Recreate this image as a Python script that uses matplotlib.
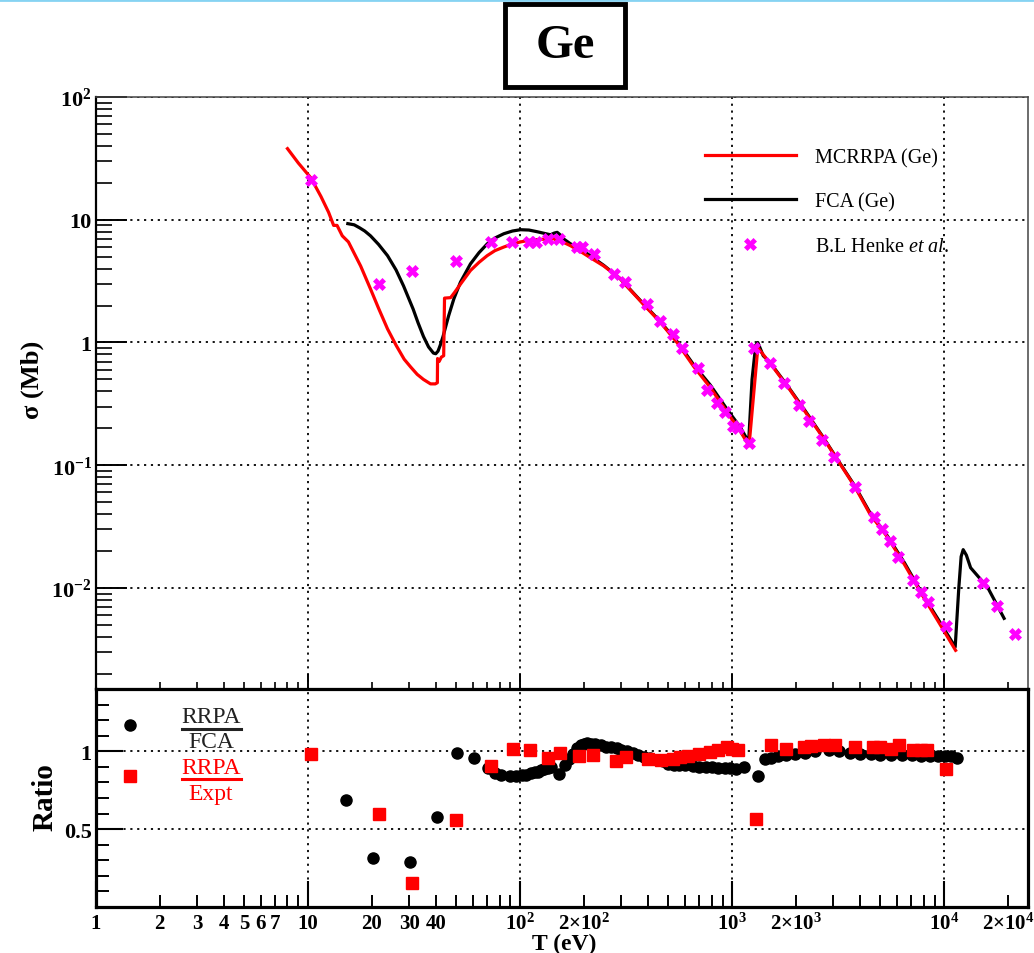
import matplotlib
matplotlib.use('Agg')
import matplotlib.pyplot as plt
from matplotlib.ticker import LogLocator, FixedLocator, FuncFormatter, MultipleLocator, NullFormatter
from matplotlib.patches import Rectangle
from matplotlib.lines import Line2D

plt.rcParams['font.family'] = ['Liberation Serif', 'DejaVu Serif']
plt.rcParams['mathtext.fontset'] = 'custom'
plt.rcParams['mathtext.rm'] = 'Liberation Serif'
plt.rcParams['mathtext.it'] = 'Liberation Serif:italic'
plt.rcParams['mathtext.bf'] = 'Liberation Serif:bold'

# ---------------- data ----------------
title_text = "Ge"
legend_labels = ["MCRRPA (Ge)", "FCA (Ge)", r"B.L Henke $\mathit{et\ al.}$"]

mcrrpa_T = [8.0, 9.0, 10.3, 11.5, 12.5, 13.2, 13.7, 14.5, 15.5, 17.7, 19.7, 21.5, 23.7, 26, 28.4,
            30.5, 32.7, 35, 37.8, 39.8, 40.7, 40.8, 41.5, 42.5, 43.6, 44.0, 47, 49, 52.4, 58.3,
            64, 69.9, 76, 83.8, 92, 100.4, 110, 120, 130, 141, 143, 145, 149.5, 160, 172, 190,
            207, 248, 297, 318, 381, 458, 549, 657, 788, 946, 1089, 1200, 1320, 1505, 1820,
            2200, 2660, 3150, 3800, 4460, 5390, 6490, 7880, 9380, 11300]
mcrrpa_sigma = [38, 29, 22, 15.5, 11.5, 9.0, 9.0, 7.4, 6.6, 4.2, 2.73, 1.9, 1.29, 0.95, 0.73,
                0.63, 0.55, 0.5, 0.46, 0.46, 0.47, 0.74, 0.70, 0.76, 0.78, 2.3, 2.32, 2.55, 3.0, 3.86,
                4.5, 5.1, 5.6, 6.0, 6.35, 6.6, 6.8, 6.9, 6.95, 6.98, 7.3, 6.95, 6.8, 6.55, 6.17, 5.6,
                5.1, 4.2, 3.3, 2.88, 2.05, 1.46, 1.0, 0.64, 0.43, 0.27, 0.19, 0.144, 0.906, 0.68, 0.44,
                0.275, 0.171, 0.109, 0.066, 0.040, 0.026, 0.0155, 0.0087, 0.0053, 0.0031]

fca_T = [15.4, 16.5, 17.5, 18.5, 19.7, 21.5, 23.7, 26, 28.2, 31.3, 33, 35.0, 37, 39.0, 40, 41, 42, 43.3, 46,
         48.7, 52.3, 58.3, 64, 70, 76, 83.8, 92, 100.4, 110, 120, 130, 139, 145, 149.5, 155, 160,
         172, 190, 207, 248, 297, 318, 381, 458, 549, 657, 788, 946, 1089, 1195, 1240, 1290, 1320,
         1400, 1505, 1820, 2200, 2660, 3150, 3800, 4460, 5390, 6490, 7880, 9380, 11250, 11700,
         12000, 12270, 12700, 13300, 16000, 19130]
fca_sigma = [9.3, 9.1, 8.6, 8.1, 7.4, 6.3, 5.1, 3.9, 2.89, 1.87, 1.45, 1.12, 0.92, 0.82, 0.81, 0.85, 0.95, 1.12, 1.65,
             2.27, 3.1, 4.37, 5.4, 6.37, 7.1, 7.7, 8.1, 8.3, 8.25, 8.0, 7.75, 7.55, 7.8, 7.9, 7.5, 7.0,
             6.4, 5.8, 5.3, 4.25, 3.3, 2.9, 2.07, 1.48, 1.02, 0.66, 0.45, 0.285, 0.205, 0.155, 0.5, 0.95, 1.0,
             0.78, 0.69, 0.445, 0.28, 0.173, 0.11, 0.067, 0.041, 0.0265, 0.016, 0.0089, 0.0055, 0.0033, 0.010,
             0.018, 0.0205, 0.0185, 0.0146, 0.0101, 0.00565]

henke_T = [10.3, 21.6, 31, 49.6, 72.5, 91.8, 110, 118.5, 136, 152, 185.5, 196, 222, 276, 311, 395,
           458, 528, 580, 686, 760, 847, 925, 1010, 1060, 1195, 1260, 1505, 1750, 2060, 2300, 2660,
           3010, 3780, 4650, 5070, 5520, 6050, 7110, 7730, 8370, 10200, 15240, 17660, 21530]
henke_sigma = [21, 3.0, 3.83, 4.6, 6.6, 6.6, 6.6, 6.6, 7.0, 7.0, 5.95, 5.95, 5.3, 3.6, 3.1, 2.05,
               1.5, 1.17, 0.91, 0.62, 0.41, 0.32, 0.27, 0.21, 0.2, 0.153, 0.91, 0.68, 0.47, 0.31, 0.23, 0.16,
               0.117, 0.066, 0.038, 0.030, 0.024, 0.018, 0.0115, 0.0093, 0.0077, 0.0049, 0.011, 0.0071, 0.0042]

ratio_fca_T = [15.1, 20.2, 30.2, 40.4, 50.4, 60.6, 70.5, 76, 81, 90, 96, 102, 107, 112, 117, 121, 126,
               130, 135, 140, 152, 163, 170, 177, 185, 193, 200, 207, 215, 225, 240, 255, 267, 285, 300,
               320, 340, 360, 385, 410, 440, 470, 498, 530, 560, 600, 650, 695, 750, 800, 860, 924, 980,
               1037, 1137, 1318, 1420, 1530, 1650, 1800, 1985, 2200, 2450, 2860, 3200, 3600, 4000, 4500,
               5000, 5600, 6300, 7050, 7800, 8600, 9300, 10100, 10800, 11500]
ratio_fca = [0.69, 0.314, 0.29, 0.58, 0.99, 0.955, 0.89, 0.86, 0.85, 0.84, 0.84, 0.846, 0.85, 0.86, 0.865,
             0.87, 0.878, 0.887, 0.894, 0.90, 0.855, 0.91, 0.95, 0.984, 1.02, 1.04, 1.05, 1.055, 1.05, 1.045,
             1.04, 1.03, 1.027, 1.02, 1.01, 1.0, 0.99, 0.975, 0.965, 0.955, 0.945, 0.935, 0.92, 0.915, 0.912,
             0.91, 0.905, 0.90, 0.90, 0.897, 0.895, 0.895, 0.89, 0.887, 0.897, 0.84, 0.95, 0.96, 0.97, 0.978,
             0.984, 0.99, 1.0, 1.006, 1.0, 0.99, 0.984, 0.98, 0.978, 0.977, 0.976, 0.975, 0.973, 0.972,
             0.971, 0.97, 0.968, 0.96]

ratio_expt_T = [10.3, 21.5, 30.9, 49.6, 72.5, 92.2, 111, 135, 154, 190, 221, 284, 316, 399, 462, 526,
                565, 619, 695, 785, 860, 943, 993, 1070, 1290, 1530, 1790, 2170, 2360, 2710, 3050, 3800,
                4600, 4960, 5600, 6100, 7100, 7800, 8300, 10200]
ratio_expt = [0.983, 0.596, 0.154, 0.556, 0.906, 1.013, 1.006, 0.958, 0.99, 0.97, 0.974, 0.94, 0.963,
              0.952, 0.942, 0.952, 0.963, 0.973, 0.984, 0.995, 1.006, 1.027, 1.016, 1.006, 0.565, 1.042,
              1.016, 1.027, 1.032, 1.042, 1.042, 1.027, 1.027, 1.027, 1.016, 1.042, 1.006, 1.006, 1.006,
              0.887]

x_major_labels = {1: "1", 10: "10", 100: r"$\mathbf{10^{2}}$", 1000: r"$\mathbf{10^{3}}$",
                  10000: r"$\mathbf{10^{4}}$"}
x_minor_labels = {2: "2", 3: "3", 4: "4", 5: "5", 6: "6", 7: "7", 20: "20", 30: "30", 40: "40",
                  200: r"$\mathbf{2{\times}10^{2}}$", 2000: r"$\mathbf{2{\times}10^{3}}$",
                  20000: r"$\mathbf{2{\times}10^{4}}$"}
y_top_labels = {100: r"$\mathbf{10^{2}}$", 10: "10", 1: "1", 0.1: r"$\mathbf{10^{-1}}$",
                0.01: r"$\mathbf{10^{-2}}$"}
y_ratio_labels = {0.5: "0.5", 1.0: "1"}

# ---------------- figure ----------------
fig = plt.figure(figsize=(10.34, 9.54), dpi=100)
ax1 = fig.add_axes([0.0928, 0.2767, 0.9014, 0.6205])
ax2 = fig.add_axes([0.0928, 0.0482, 0.9014, 0.2285])

RED = '#ff0000'
MAG = '#ff00ff'
grid_style = dict(color='black', linestyle=(0, (1.2, 2.6)), linewidth=1.3)
TICK_FS = 16
XTICK_FS = 15


def lookup(d):
    def f(v, pos):
        for k, s in d.items():
            if abs(v - k) <= 1e-6 * max(abs(k), 1e-9):
                return s
        return ""
    return f

# --- top panel ---
l_fca, = ax1.plot(fca_T, fca_sigma, color='black', lw=2.3, zorder=3)
l_rpa, = ax1.plot(mcrrpa_T, mcrrpa_sigma, color=RED, lw=2.3, zorder=4)
l_hen, = ax1.plot(henke_T, henke_sigma, linestyle='none', marker='X', ms=8.5, mfc=MAG, mec=MAG,
                  mew=0.5, zorder=5)
ax1.set_xscale('log')
ax1.set_yscale('log')
ax1.set_xlim(1, 2.48e4)
ax1.set_ylim(1.5e-3, 100)
ax1.yaxis.set_major_locator(LogLocator(base=10, numticks=20))
ax1.yaxis.set_minor_locator(LogLocator(base=10, subs=range(2, 10), numticks=20))
ax1.yaxis.set_major_formatter(FuncFormatter(lookup(y_top_labels)))
ax1.yaxis.set_minor_formatter(NullFormatter())
ax1.xaxis.set_major_locator(LogLocator(base=10, numticks=20))
ax1.xaxis.set_minor_locator(LogLocator(base=10, subs=range(2, 10), numticks=20))
ax1.tick_params(axis='y', which='major', direction='in', length=22, width=1.4, left=True, right=False,
                labelsize=TICK_FS, pad=3)
ax1.tick_params(axis='y', which='minor', direction='in', length=11.5, width=1.2, left=True, right=False)
ax1.tick_params(axis='x', which='major', direction='in', length=11, width=1.4, bottom=True, top=False,
                labelbottom=False)
ax1.tick_params(axis='x', which='minor', direction='in', length=5, width=1.2, bottom=True, top=False)
for lab in ax1.get_yticklabels():
    lab.set_fontweight('bold')
ax1.grid(True, which='major', **grid_style)
ax1.spines['left'].set_linewidth(1.6)
ax1.spines['bottom'].set_linewidth(2.2)
for s in ('top', 'right'):
    ax1.spines[s].set_linewidth(1.1)
    ax1.spines[s].set_color('#444444')

leg = ax1.legend([l_rpa, l_fca, l_hen], legend_labels, loc='upper left',
                 bbox_to_anchor=(0.645, 0.928), frameon=False, fontsize=14.5,
                 handlelength=4.5, handletextpad=0.95, labelspacing=1.25, borderaxespad=0)

# --- bottom panel ---
ax2.plot(ratio_fca_T, ratio_fca, linestyle='none', marker='o', ms=8, color='black', zorder=3)
ax2.plot(ratio_expt_T, ratio_expt, linestyle='none', marker='s', ms=8, color=RED, zorder=4)
ax2.set_xscale('log')
ax2.set_xlim(1, 2.48e4)
ax2.set_ylim(0, 1.4)
ax2.xaxis.set_major_locator(LogLocator(base=10, numticks=20))
ax2.xaxis.set_minor_locator(LogLocator(base=10, subs=range(2, 10), numticks=20))
ax2.xaxis.set_major_formatter(FuncFormatter(lookup(x_major_labels)))
ax2.xaxis.set_minor_formatter(FuncFormatter(lookup(x_minor_labels)))
ax2.yaxis.set_major_locator(FixedLocator(list(y_ratio_labels.keys())))
ax2.yaxis.set_minor_locator(MultipleLocator(0.1))
ax2.yaxis.set_major_formatter(FuncFormatter(lookup(y_ratio_labels)))
ax2.tick_params(axis='x', which='major', direction='in', length=19, width=1.5, top=False,
                labelsize=XTICK_FS, pad=4)
ax2.tick_params(axis='x', which='minor', direction='in', length=9, width=1.4, top=False,
                labelsize=XTICK_FS, pad=4)
ax2.tick_params(axis='y', which='major', direction='in', length=19.5, width=1.5, right=False,
                labelsize=TICK_FS, pad=3)
ax2.tick_params(axis='y', which='minor', direction='in', length=9.5, width=1.4, right=False)
for lab in ax2.get_xticklabels(which='both') + ax2.get_yticklabels():
    lab.set_fontweight('bold')
ax2.grid(True, which='major', **grid_style)
for s in ax2.spines.values():
    s.set_linewidth(2.3)

# bottom-panel key
ax2.plot([0.0365], [0.835], transform=ax2.transAxes, marker='o', ms=8, color='black', clip_on=False)
ax2.plot([0.0365], [0.601], transform=ax2.transAxes, marker='s', ms=8, color=RED, clip_on=False)
ax2.text(0.1235, 0.872, "RRPA", transform=ax2.transAxes, ha='center', va='center', fontsize=17,
         color='#222222')
ax2.add_line(Line2D([0.0925, 0.1555], [0.818, 0.818], transform=ax2.transAxes, color='#222222', lw=2.2))
ax2.text(0.1235, 0.757, "FCA", transform=ax2.transAxes, ha='center', va='center', fontsize=17,
         color='#222222')
ax2.text(0.1235, 0.638, "RRPA", transform=ax2.transAxes, ha='center', va='center', fontsize=17,
         color=RED)
ax2.add_line(Line2D([0.0925, 0.1555], [0.586, 0.586], transform=ax2.transAxes, color=RED, lw=2.2))
ax2.text(0.1235, 0.522, "Expt", transform=ax2.transAxes, ha='center', va='center', fontsize=17,
         color=RED)

# axis labels
fig.text(0.031, 0.6017, "σ (Mb)", rotation=90, ha='center', va='center', fontsize=19,
         fontweight='bold')
fig.text(0.0435, 0.1646, "Ratio", rotation=90, ha='center', va='center', fontsize=21,
         fontweight='bold')
fig.text(0.5455, 0.0098, "T (eV)", ha='center', va='center', fontsize=17, fontweight='bold')

# title box
fig.add_artist(Rectangle((0.4884, 0.9078), 0.116, 0.087, transform=fig.transFigure, fill=False,
                         edgecolor='black', linewidth=3.5))
fig.text(0.5464, 0.9513, title_text, ha='center', va='center', fontsize=35, fontweight='bold')

# thin slide line at very top
fig.add_artist(Line2D([0, 1], [0.9985, 0.9985], transform=fig.transFigure, color='#86d3f2', lw=2))

fig.savefig('out.png', dpi=100)
